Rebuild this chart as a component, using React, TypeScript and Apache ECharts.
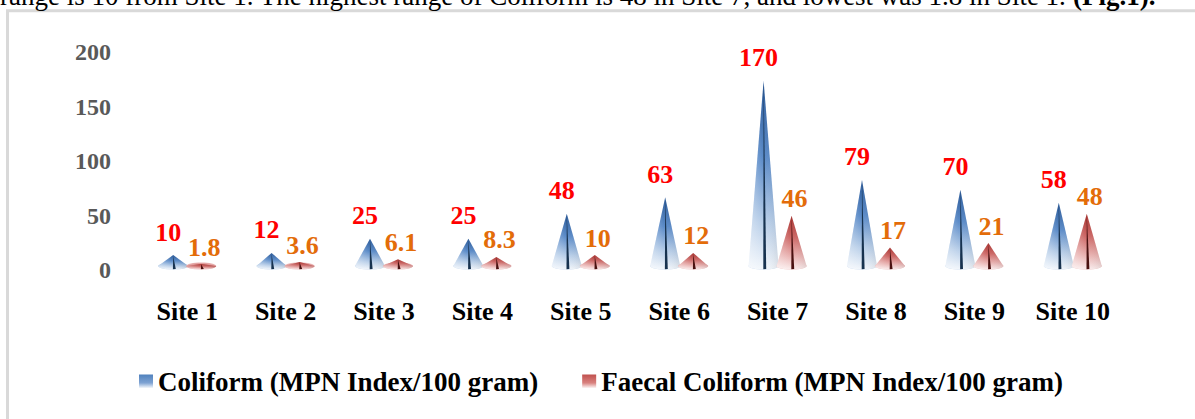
import React, { useEffect, useRef } from "react";
import * as echarts from "echarts";

const categories = ["Site 1", "Site 2", "Site 3", "Site 4", "Site 5", "Site 6", "Site 7", "Site 8", "Site 9", "Site 10"];
const coliform = [10, 12, 25, 25, 48, 63, 170, 79, 70, 58];
const faecalColiform = [1.8, 3.6, 6.1, 8.3, 10, 12, 46, 17, 21, 48];
const seriesNames = ["Coliform (MPN Index/100 gram)", "Faecal Coliform (MPN Index/100 gram)"];
const yMin = 0;
const yMax = 200;
const yInterval = 50;
const captionText = "range is 10 from Site 1. The highest range of Coliform is 48 in Site 7, and lowest was 1.8 in Site 1. ";
const captionBold = "(Fig.1).";

const SERIF = '"Liberation Serif", "Times New Roman", serif';

type ConeStyle = {
  offset: number;
  top: string;
  mid: string;
  low: string;
  base: string;
  stripe: string;
  label: string;
  labelDx: number;
  labelGap: number;
};

const blueCone: ConeStyle = {
  offset: -14,
  top: "#2c5a98",
  mid: "#5b8bc8",
  low: "#b9cfe9",
  base: "#f3f7fc",
  stripe: "#17324f",
  label: "#ff0000",
  labelDx: -5,
  labelGap: 10,
};

const redCone: ConeStyle = {
  offset: 14,
  top: "#a83532",
  mid: "#cd6866",
  low: "#eab4b3",
  base: "#fbeeee",
  stripe: "#4a1110",
  label: "#e36c09",
  labelDx: 3,
  labelGap: 4,
};

function makeRenderItem(cs: ConeStyle) {
  return (params: any, api: any) => {
    const idx = api.value(0);
    const val = api.value(1);
    const basePt = api.coord([idx, 0]);
    const tipPt = api.coord([idx, val]);
    const lift = 4;
    const cx = basePt[0] + cs.offset;
    const by = basePt[1] - lift;
    const ty = tipPt[1] - lift;
    const hw = 15;
    const ry = 3.5;
    const pts: number[][] = [[cx, ty], [cx + hw, by]];
    const n = 14;
    for (let k = 1; k < n; k++) {
      const a = (Math.PI * k) / n;
      pts.push([cx + hw * Math.cos(a), by + ry * Math.sin(a)]);
    }
    pts.push([cx - hw, by]);
    const bodyGrad = new echarts.graphic.LinearGradient(0, 0, 0, 1, [
      { offset: 0, color: cs.top },
      { offset: 0.4, color: cs.mid },
      { offset: 0.75, color: cs.low },
      { offset: 1, color: cs.base },
    ]);
    const sideGrad = new echarts.graphic.LinearGradient(0, 0, 1, 0, [
      { offset: 0, color: "rgba(255,255,255,0.35)" },
      { offset: 0.45, color: "rgba(255,255,255,0)" },
      { offset: 1, color: "rgba(0,0,0,0.08)" },
    ]);
    const baseGrad = new echarts.graphic.RadialGradient(0.5, 0.5, 0.5, [
      { offset: 0, color: cs.mid },
      { offset: 1, color: cs.low },
    ]);
    const h = by - ty;
    const children: any[] = [
      {
        type: "ellipse",
        shape: { cx, cy: by, rx: hw, ry },
        style: { fill: baseGrad },
      },
      {
        type: "polygon",
        shape: { points: pts },
        style: { fill: bodyGrad },
      },
      {
        type: "polygon",
        shape: { points: pts },
        style: { fill: sideGrad },
      },
      {
        type: "polygon",
        shape: {
          points: [
            [cx, ty + Math.min(2, h * 0.1)],
            [cx - 0.3, by + ry - 0.3],
            [cx + 2.6, by + ry - 0.5],
          ],
        },
        style: { fill: cs.stripe },
      },
      {
        type: "text",
        x: cx + cs.labelDx,
        y: ty - cs.labelGap,
        style: {
          text: String(val),
          fill: cs.label,
          fontSize: 26,
          fontWeight: "bold",
          fontFamily: SERIF,
          align: "center",
          verticalAlign: "bottom",
        },
      },
    ];
    return { type: "group", children };
  };
}

export default function App() {
  const ref = useRef<HTMLDivElement>(null);
  useEffect(() => {
    if (!ref.current) return;
    const chart = echarts.init(ref.current, undefined, { renderer: "svg" });
    const legendBlue = new echarts.graphic.LinearGradient(0, 0, 0, 1, [
      { offset: 0, color: "#4f81bd" },
      { offset: 0.6, color: "#7fa3d3" },
      { offset: 1, color: "#ffffff" },
    ]);
    const legendRed = new echarts.graphic.LinearGradient(0, 0, 0, 1, [
      { offset: 0, color: "#c0504d" },
      { offset: 0.6, color: "#d9827f" },
      { offset: 1, color: "#ffffff" },
    ]);
    chart.setOption({
      animation: false,
      backgroundColor: "#ffffff",
      grid: { left: 138, right: 73, top: 52, bottom: 149, containLabel: false },
      xAxis: {
        type: "category",
        data: categories,
        axisLine: { show: false },
        axisTick: { show: false },
        axisLabel: {
          margin: 28,
          color: "#000000",
          fontSize: 26,
          fontWeight: "bold",
          fontFamily: SERIF,
          interval: 0,
        },
      },
      yAxis: {
        type: "value",
        min: yMin,
        max: yMax,
        interval: yInterval,
        axisLine: { show: false },
        axisTick: { show: false },
        splitLine: { show: false },
        axisLabel: {
          margin: 27,
          color: "#595959",
          fontSize: 24,
          fontWeight: "bold",
          fontFamily: SERIF,
        },
      },
      legend: {
        left: 139,
        top: 368,
        padding: 0,
        icon: "rect",
        itemWidth: 14,
        itemHeight: 14,
        itemGap: 44,
        textStyle: {
          color: "#000000",
          fontSize: 27,
          fontWeight: "bold",
          fontFamily: SERIF,
        },
        data: [
          { name: seriesNames[0], itemStyle: { color: legendBlue } },
          { name: seriesNames[1], itemStyle: { color: legendRed } },
        ],
      },
      graphic: [
        {
          type: "rect",
          z: -10,
          shape: { x: 7.5, y: 10.7, width: 1400, height: 800 },
          style: { fill: "none", stroke: "#d9d9d9", lineWidth: 3 },
        },
        {
          type: "text",
          left: 0,
          top: -18,
          style: {
            text: "{n|" + captionText + "}{b|" + captionBold + "}",
            rich: {
              n: { fontSize: 27, fontFamily: SERIF, fill: "#000000" },
              b: { fontSize: 27, fontFamily: SERIF, fontWeight: "bold", fill: "#000000" },
            },
          },
        },
      ],
      series: [
        {
          name: seriesNames[0],
          type: "custom",
          clip: false,
          itemStyle: { color: "#4f81bd" },
          encode: { x: 0, y: 1 },
          data: coliform.map((v, i) => [i, v]),
          renderItem: makeRenderItem(blueCone),
        },
        {
          name: seriesNames[1],
          type: "custom",
          clip: false,
          itemStyle: { color: "#c0504d" },
          encode: { x: 0, y: 1 },
          data: faecalColiform.map((v, i) => [i, v]),
          renderItem: makeRenderItem(redCone),
        },
      ],
    });
    return () => chart.dispose();
  }, []);
  return (
    <div
      ref={ref}
      style={{ position: "fixed", left: 0, top: 0, width: 1195, height: 419, background: "#fff" }}
    />
  );
}
